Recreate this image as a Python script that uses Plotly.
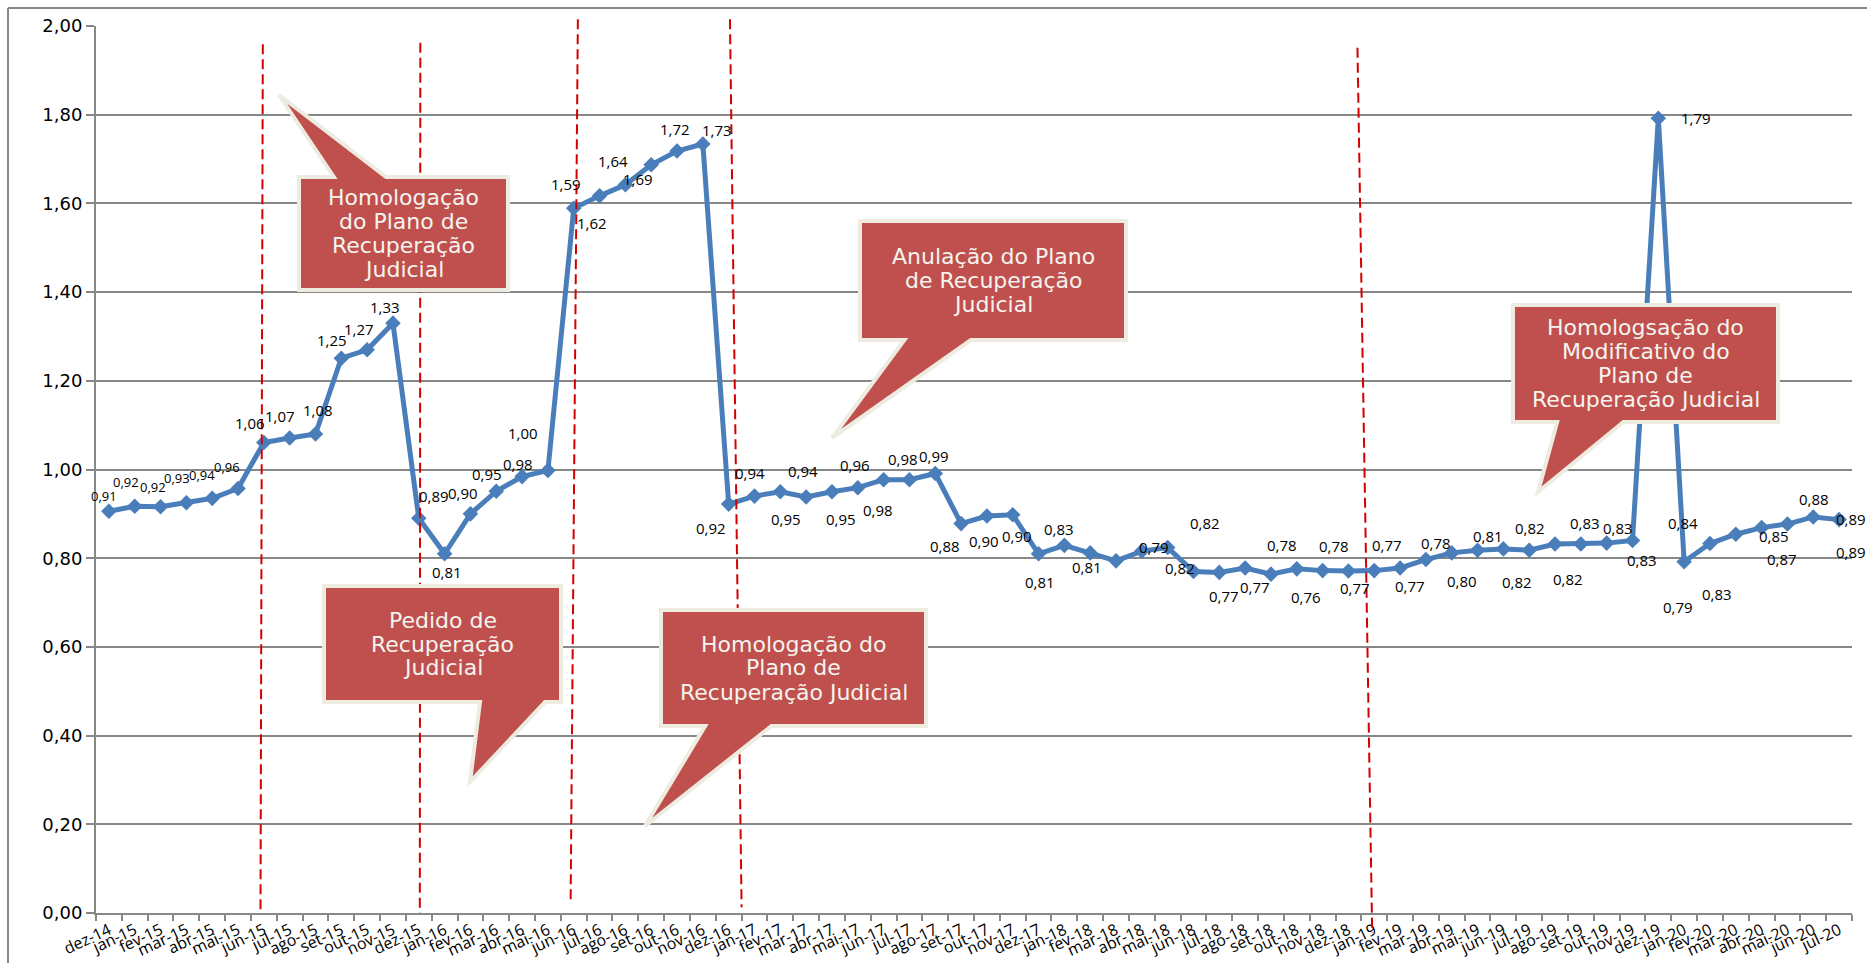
import plotly.graph_objects as go

# ---------------- data ----------------
months = [
    "dez-14",
    "jan-15", "fev-15", "mar-15", "abr-15", "mai-15", "jun-15", "jul-15", "ago-15", "set-15", "out-15", "nov-15", "dez-15",
    "jan-16", "fev-16", "mar-16", "abr-16", "mai-16", "jun-16", "jul-16", "ago-16", "set-16", "out-16", "nov-16", "dez-16",
    "jan-17", "fev-17", "mar-17", "abr-17", "mai-17", "jun-17", "jul-17", "ago-17", "set-17", "out-17", "nov-17", "dez-17",
    "jan-18", "fev-18", "mar-18", "abr-18", "mai-18", "jun-18", "jul-18", "ago-18", "set-18", "out-18", "nov-18", "dez-18",
    "jan-19", "fev-19", "mar-19", "abr-19", "mai-19", "jun-19", "jul-19", "ago-19", "set-19", "out-19", "nov-19", "dez-19",
    "jan-20", "fev-20", "mar-20", "abr-20", "mai-20", "jun-20", "jul-20",
]

values = [
    0.906, 0.917, 0.916, 0.925, 0.935, 0.957,
    1.061, 1.071, 1.080, 1.251, 1.270, 1.330,
    0.890, 0.810, 0.900, 0.951, 0.984, 0.998,
    1.589, 1.617, 1.642, 1.687, 1.718, 1.734,
    0.922, 0.940, 0.950, 0.938, 0.950, 0.959,
    0.977, 0.977, 0.991, 0.878, 0.895, 0.898,
    0.810, 0.829, 0.812, 0.794, 0.816, 0.824,
    0.770, 0.768, 0.778, 0.764, 0.776, 0.772,
    0.771, 0.772, 0.778, 0.797, 0.812, 0.818,
    0.821, 0.818, 0.832, 0.832, 0.834, 0.840,
    1.792, 0.792, 0.833, 0.854, 0.869, 0.877,
    0.893, 0.887,
]

y_ticks = [0.0, 0.2, 0.4, 0.6, 0.8, 1.0, 1.2, 1.4, 1.6, 1.8, 2.0]

events = [
    ["Homologação", "do Plano de", "Recuperação", "Judicial"],
    ["Pedido de", "Recuperação", "Judicial"],
    ["Homologação do", "Plano de", "Recuperação Judicial"],
    ["Anulação do Plano", "de Recuperação", "Judicial"],
    ["Homologsação do", "Modificativo do", "Plano de", "Recuperação Judicial"],
]

# ---------------- style / layout helpers ----------------
W, H = 1867, 963
ML, MR, MT, MB = 96, 15, 26, 50
PW, PH = W - ML - MR, H - MT - MB

BLUE = "#4A7EBB"
GRID = "#878787"
RED = "#D40000"
CALL_FILL = "#C0504D"
CALL_EDGE = "#EEECE1"
CALL_TEXT = "#F4F4EF"
LINE_STEP = 24  # px between text lines inside callouts


def px(x):
    return (x - ML) / PW


def py(y):
    return (H - MB - y) / PH


# data-label offsets (pixels, dy positive = downward) and sizes
label_dx = [
    -5, -9, -8, -9, -10, -11,
    -14, -10, 2, -9, -8, -8,
    15, 2, -7, -9, -4, -25,
    -8, -8, -12, -13, -2, 14,
    -18, -5, 6, -3, 9, -3,
    -6, -6, -1, -16, -3, 4,
    1, -5, -3, 38, 38, 37,
    30, 36, 37, 35, 37, 32,
    39, 36, 36, 36, 36, 39,
    27, 39, 30, 37, 35, 50,
    38, -6, 7, 38, 20, 27,
    38, 12,
]
label_dy = [
    -15, -24, -20, -25, -23, -22,
    -19, -22, -24, -18, -21, -16,
    -22, 18, -21, -17, -13, -37,
    -24, 27, -24, 14, -22, -14,
    24, -23, 27, -26, 27, -23,
    30, -21, -17, 22, 25, 21,
    28, -16, 14, -14, 17, -25,
    24, 15, -23, 23, -23, 17,
    -26, 15, -25, 21, -17, 32,
    -21, 29, -21, -16, 17, -17,
    0, 45, 50, 2, 31, -25,
    2, 32,
]
label_size = [13] * 6 + [15] * 62

# dashed event lines: (x_top_idx, y_top_val, x_bottom_idx, y_bottom_val)
vlines = [
    (5.96, 1.959, 5.87, 0.0),
    (12.06, 1.962, 12.04, 0.0),
    (18.16, 2.015, 17.88, 0.025),
    (24.05, 2.015, 24.5, 0.013),
    (48.35, 1.951, 48.92, -0.045),
]

# callout boxes in pixels: (x0, y0, x1, y1, tip_x, tip_y, tail_base or None)
callouts = [
    (299, 177, 508, 290, 279, 95, None),
    (324, 586, 561, 702, 470, 782, (480, 545)),
    (661, 610, 926, 726, 645, 826, None),
    (860, 221, 1126, 340, 832, 438, None),
    (1513, 305, 1778, 422, 1538, 492, None),
]


def callout_path(x0, y0, x1, y1, tx, ty, base):
    w, h = x1 - x0, y1 - y0
    hc, vc = (x0 + x1) / 2, (y0 + y1) / 2
    dxp, dyp = tx - hc, ty - vc
    if abs(dyp * w) > abs(dxp * h):
        g1, g2 = (7, 10) if dxp > 0 else (2, 5)
        b1, b2 = x0 + w * g1 / 12, x0 + w * g2 / 12
        if base:
            b1, b2 = base
        if dyp < 0:
            pts = [(x0, y0), (b1, y0), (tx, ty), (b2, y0), (x1, y0), (x1, y1), (x0, y1)]
        else:
            pts = [(x0, y0), (x1, y0), (x1, y1), (b2, y1), (tx, ty), (b1, y1), (x0, y1)]
    else:
        g1, g2 = (7, 10) if dyp > 0 else (2, 5)
        b1, b2 = y0 + h * g1 / 12, y0 + h * g2 / 12
        if base:
            b1, b2 = base
        if dxp < 0:
            pts = [(x0, y0), (x1, y0), (x1, y1), (x0, y1), (x0, b2), (tx, ty), (x0, b1)]
        else:
            pts = [(x0, y0), (x1, y0), (x1, b1), (tx, ty), (x1, b2), (x1, y1), (x0, y1)]
    return "M " + " L ".join(f"{px(a):.5f},{py(b):.5f}" for a, b in pts) + " Z"


# ---------------- figure ----------------
fig = go.Figure()
fig.add_trace(go.Scatter(
    x=months, y=values, mode="lines+markers",
    line=dict(color=BLUE, width=5),
    marker=dict(symbol="diamond", size=12, color=BLUE, line=dict(width=0)),
    cliponaxis=False, hoverinfo="skip", showlegend=False,
))

shapes = []
# chart-area border (left and top)
shapes.append(dict(type="line", xref="paper", yref="paper", x0=px(8), x1=px(W + 5), y0=py(8), y1=py(8),
                   line=dict(color=GRID, width=2), layer="above"))
shapes.append(dict(type="line", xref="paper", yref="paper", x0=px(8), x1=px(8), y0=py(8), y1=py(H + 5),
                   line=dict(color=GRID, width=2), layer="above"))

for xt, yt, xb, yb in vlines:
    shapes.append(dict(type="line", xref="paper", yref="paper",
                       x0=(xt + 0.5) / len(months), y0=yt / 2.0,
                       x1=(xb + 0.5) / len(months), y1=yb / 2.0,
                       line=dict(color=RED, width=2, dash="10px,5px"), layer="above"))

for (x0, y0, x1, y1, tx, ty, base) in callouts:
    shapes.append(dict(type="path", xref="paper", yref="paper",
                       path=callout_path(x0, y0, x1, y1, tx, ty, base),
                       fillcolor=CALL_FILL, line=dict(color=CALL_EDGE, width=4), layer="above"))

annotations = []
for i, (m, v) in enumerate(zip(months, values)):
    annotations.append(dict(
        x=i, y=v, xref="x", yref="y", text=f"{v:.2f}".replace(".", ","),
        showarrow=False, xshift=label_dx[i], yshift=-label_dy[i],
        xanchor="center", yanchor="middle",
        font=dict(family="Open Sans", size=label_size[i], color="#000000"),
    ))

for (x0, y0, x1, y1, tx, ty, base), lines in zip(callouts, events):
    cx, cy = (x0 + x1) / 2, (y0 + y1) / 2
    n = len(lines)
    for k, line_txt in enumerate(lines):
        ly = cy + (k - (n - 1) / 2) * LINE_STEP
        annotations.append(dict(
            x=px(cx), y=py(ly), xref="paper", yref="paper",
            text=line_txt, showarrow=False, xanchor="center", yanchor="middle",
            font=dict(family="DejaVu Sans", size=22, color=CALL_TEXT),
        ))

fig.update_layout(
    width=W, height=H,
    margin=dict(l=ML, r=MR, t=MT, b=MB, pad=0, autoexpand=False),
    paper_bgcolor="white", plot_bgcolor="white",
    separators=",.",
    shapes=shapes, annotations=annotations,
    showlegend=False,
    xaxis=dict(
        type="category", categoryorder="array", categoryarray=months,
        range=[-0.5, len(months) - 0.5], automargin=False,
        tickmode="linear", tick0=0, dtick=1,
        tickson="boundaries", ticks="outside", ticklen=6, tickwidth=2, tickcolor=GRID,
        showline=True, linecolor=GRID, linewidth=2, showgrid=False, zeroline=False,
        tickangle=-25,
        tickfont=dict(family="Open Sans", size=16, color="#000000"),
    ),
    yaxis=dict(
        range=[0, 2.0], tickmode="array", tickvals=y_ticks, tickformat=".2f", automargin=False,
        ticks="outside", ticklen=8, tickwidth=2, tickcolor=GRID,
        showline=True, linecolor=GRID, linewidth=2,
        showgrid=True, gridcolor=GRID, gridwidth=2, zeroline=False,
        tickfont=dict(family="DejaVu Sans", size=18, color="#000000"),
        ticklabelstandoff=0,
    ),
)

fig.write_html("out.html", include_plotlyjs=True, full_html=True,
               config={"displayModeBar": False},
               post_script="document.body.style.margin='0';document.body.style.overflow='hidden';")
